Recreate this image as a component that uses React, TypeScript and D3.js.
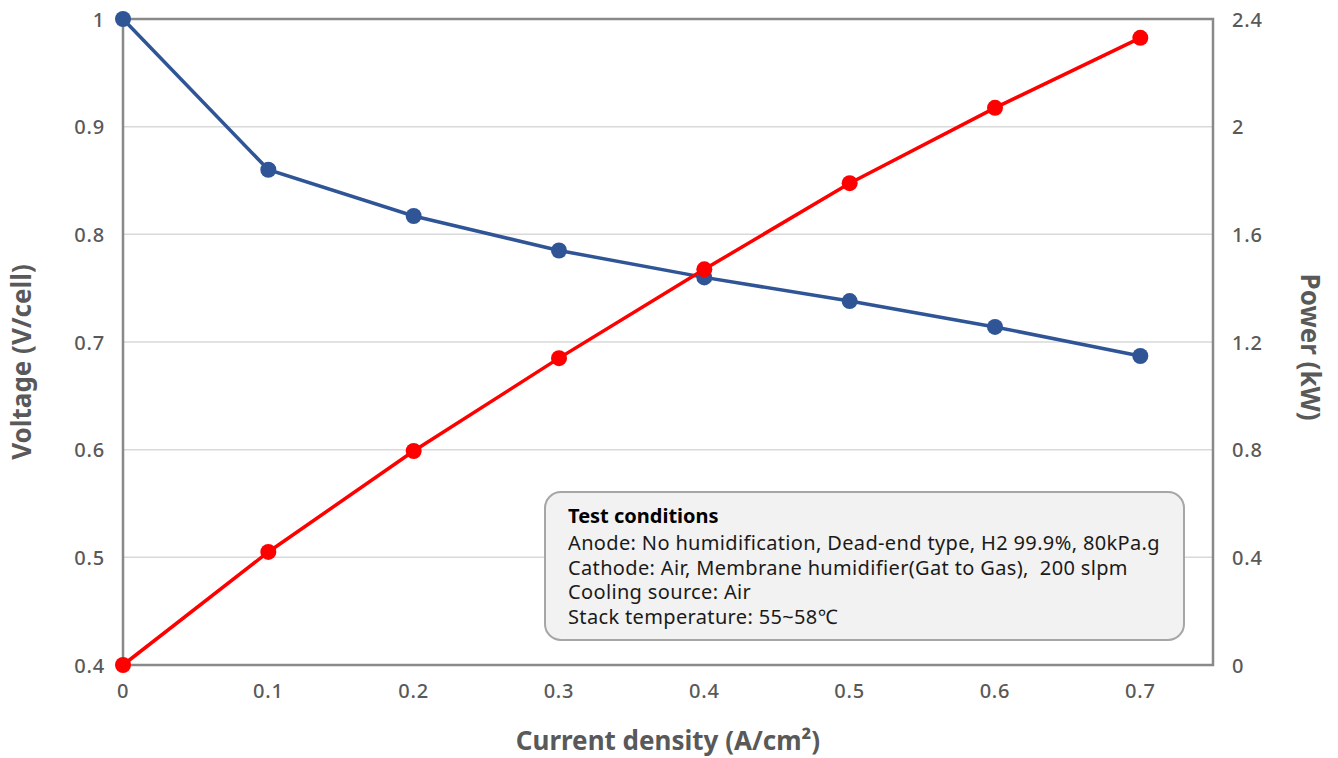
import React from 'react';
import { scaleLinear, line } from 'd3';

const current = [0, 0.1, 0.2, 0.3, 0.4, 0.5, 0.6, 0.7];
const voltage = [1.0, 0.86, 0.817, 0.785, 0.76, 0.738, 0.714, 0.687];
const power = [0, 0.42, 0.795, 1.14, 1.47, 1.79, 2.07, 2.33];
const xTicks = [0, 0.1, 0.2, 0.3, 0.4, 0.5, 0.6, 0.7];
const vTicks = [0.4, 0.5, 0.6, 0.7, 0.8, 0.9, 1];
const pTicks = [0, 0.4, 0.8, 1.2, 1.6, 2, 2.4];
const notes = [
  'Anode: No humidification, Dead-end type, H2 99.9%, 80kPa.g',
  'Cathode: Air, Membrane humidifier(Gat to Gas),  200 slpm',
  'Cooling source: Air',
  'Stack temperature: 55~58\u2103',
];

const W = 1338;
const H = 758;
const m = { left: 123, right: 1213, top: 19, bottom: 665 };
const font = '"Noto Sans", "Open Sans", sans-serif';
const textColor = '#595959';

const App: React.FC = () => {
  const x = scaleLinear().domain([0, 0.75]).range([m.left, m.right]);
  const yV = scaleLinear().domain([0.4, 1]).range([m.bottom, m.top]);
  const yP = scaleLinear().domain([0, 2.4]).range([m.bottom, m.top]);

  const vLine = line<number>()
    .x((_, i) => x(current[i]))
    .y((d) => yV(d));
  const pLine = line<number>()
    .x((_, i) => x(current[i]))
    .y((d) => yP(d));

  return (
    <svg
      width={W}
      height={H}
      style={{ position: 'absolute', left: 0, top: 0, background: '#fff' }}
      fontFamily={font}
    >
      {vTicks.slice(1, -1).map((t) => (
        <line
          key={'g' + t}
          x1={m.left}
          x2={m.right}
          y1={yV(t)}
          y2={yV(t)}
          stroke="#d9d9d9"
          strokeWidth={1.5}
        />
      ))}
      <rect
        x={m.left}
        y={m.top}
        width={m.right - m.left}
        height={m.bottom - m.top}
        fill="none"
        stroke="#898989"
        strokeWidth={2.5}
      />
      {vTicks.map((t) => (
        <text
          key={'v' + t}
          x={105}
          y={yV(t)}
          textAnchor="end"
          dominantBaseline="central"
          fontSize={20}
          fontWeight={500}
          letterSpacing={0.8}
          fill={textColor}
        >
          {String(t)}
        </text>
      ))}
      {pTicks.map((t) => (
        <text
          key={'p' + t}
          x={1232}
          y={yP(t)}
          textAnchor="start"
          dominantBaseline="central"
          fontSize={20}
          fontWeight={500}
          letterSpacing={0.8}
          fill={textColor}
        >
          {String(t)}
        </text>
      ))}
      {xTicks.map((t) => (
        <text
          key={'x' + t}
          x={x(t)}
          y={690}
          textAnchor="middle"
          dominantBaseline="central"
          fontSize={20}
          fontWeight={500}
          letterSpacing={0.8}
          fill={textColor}
        >
          {String(t)}
        </text>
      ))}
      <text
        transform={`translate(31,362) rotate(-90)`}
        textAnchor="middle"
        fontSize={26}
        fontWeight="bold"
        fill={textColor}
      >
        Voltage (V/cell)
      </text>
      <text
        transform={`translate(1301,347) rotate(90)`}
        textAnchor="middle"
        fontSize={26}
        fontWeight="bold"
        fill={textColor}
      >
        Power (kW)
      </text>
      <text x={668} y={750} textAnchor="middle" fontSize={26} fontWeight="bold" fill={textColor}>
        Current density (A/cm²)
      </text>

      <path d={vLine(voltage) || ''} fill="none" stroke="#2f5597" strokeWidth={3.5} />
      <path d={pLine(power) || ''} fill="none" stroke="#ff0000" strokeWidth={3.5} />
      {voltage.map((v, i) => (
        <circle key={'vc' + i} cx={x(current[i])} cy={yV(v)} r={8} fill="#2f5597" />
      ))}
      {power.map((p, i) => (
        <circle key={'pc' + i} cx={x(current[i])} cy={yP(p)} r={8} fill="#ff0000" />
      ))}

      <rect x={545} y={492} width={639} height={148} rx={16} fill="#f2f2f2" stroke="#a6a6a6" strokeWidth={2} />
      <text x={568} y={523} fontSize={20} fontWeight="bold" fill="#000">
        Test conditions
      </text>
      {notes.map((n, i) => (
        <text
          key={n}
          x={568}
          y={550 + i * 24.5}
          fontSize={20}
          letterSpacing={0.35}
          fill="#1a1a1a"
          style={{ whiteSpace: 'pre' }}
        >
          {n}
        </text>
      ))}
    </svg>
  );
};

export default App;
